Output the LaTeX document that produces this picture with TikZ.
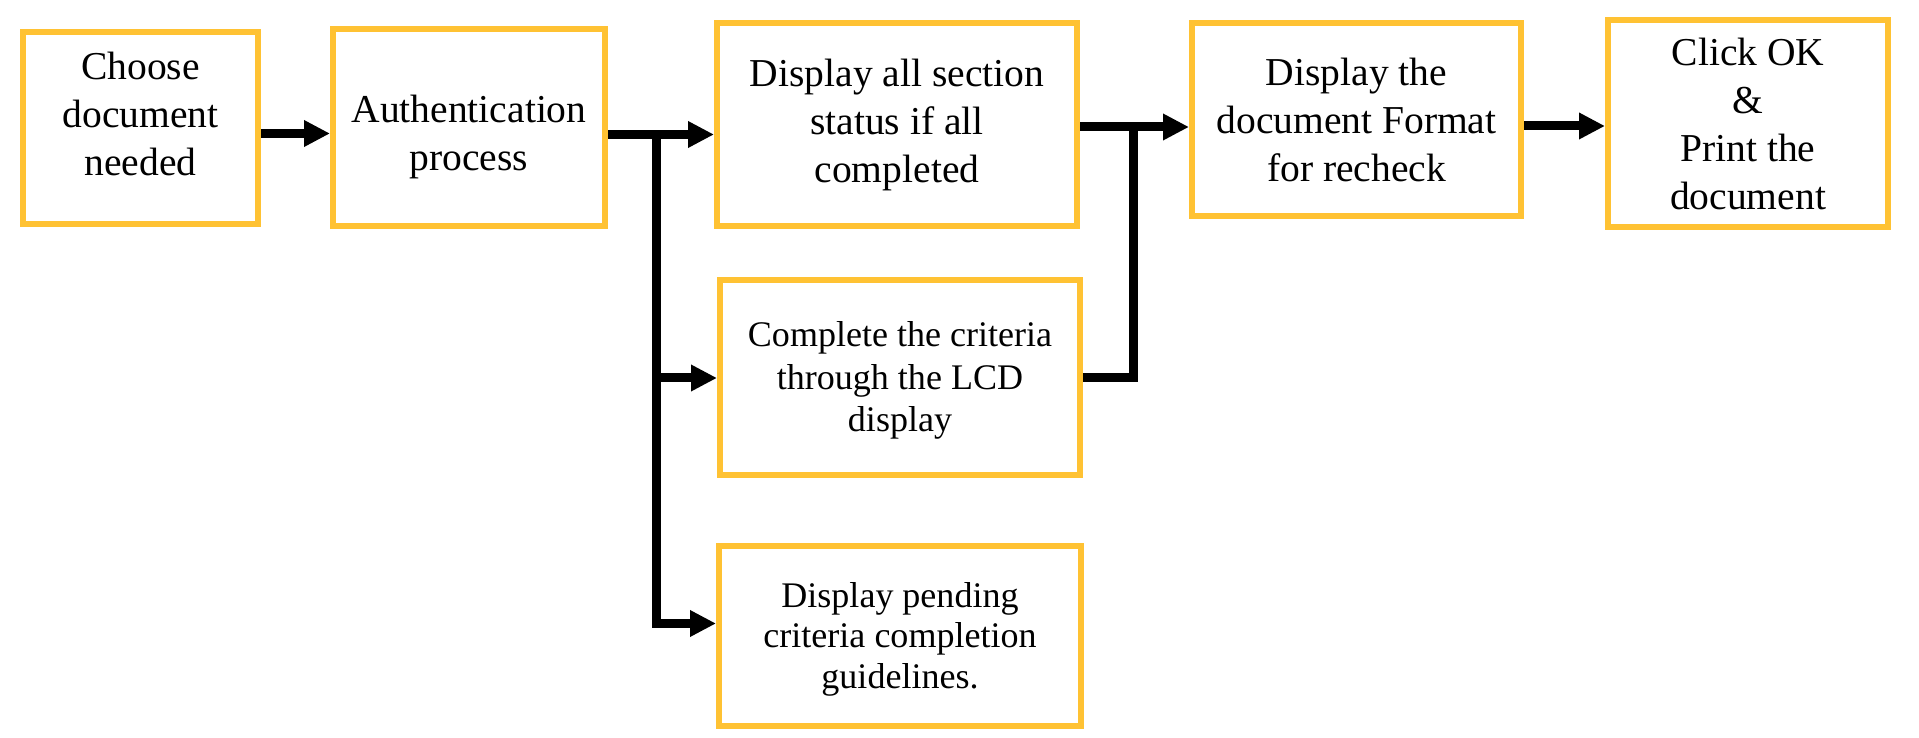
\documentclass[tikz,border=0pt]{standalone}
\usepackage{fontspec}
\setmainfont{Liberation Serif}
\usepackage{xcolor}
\usetikzlibrary{positioning, arrows.meta, calc}
\definecolor{boxgold}{RGB}{255,194,51}
% text block moved up/down inside its box, box size kept
\newcommand{\liftlines}[2]{\raisebox{#1}[\height][\depth]{\begin{tabular}{@{}c@{}}#2\end{tabular}}}
\tikzset{
    task/.style={rectangle, draw=boxgold, line width=0.12cm, fill=white, align=center, inner sep=0pt, font=\fontsize{22.5pt}{27.3pt}\selectfont},
    subtask/.style={task, font=\fontsize{20.5pt}{24.3pt}\selectfont}
}

\begin{document}
\begin{tikzpicture}[
        % Styles
        line/.style   ={-{Triangle[length=0.52cm, width=0.5cm]}, line width=0.18cm},
        connect/.style={line width=0.18cm}
    ]
    \useasboundingbox (0,0) rectangle (38.38,-14.76);

    % --- MAIN ROW ---

    % Choose document
    \node[task, minimum width=4.7cm, minimum height=3.84cm] (Choose) at (2.81,-2.56) {\liftlines{0.21cm}{Choose\\document\\needed}};

    % Authentication
    \node[task, minimum width=5.44cm, minimum height=3.94cm, right=1.38cm of Choose] (Auth) {\liftlines{-0.17cm}{Authentication\\process}};
    \draw[line] ([yshift=-0.11cm]Choose.east) -- ([yshift=-0.11cm]Choose.east -| Auth.west);

    % Section status
    \node[task, minimum width=7.2cm, minimum height=4.06cm, right=2.12cm of Auth, yshift=0.06cm] (Disp) {Display all section\\status if all\\completed};

    % Document format
    \node[task, minimum width=6.58cm, minimum height=3.86cm, right=2.18cm of Disp, yshift=0.1cm] (Fmt) {Display the\\document Format\\for recheck};

    % Print
    \node[task, minimum width=5.6cm, minimum height=4.14cm, right=1.62cm of Fmt, yshift=-0.08cm] (Ok) {Click OK\\\&\\Print the\\document};

    % --- BRANCHES (below) ---

    % Criteria via LCD
    \node[subtask, minimum width=7.2cm, minimum height=3.9cm, below=0.96cm of Disp, xshift=0.06cm] (Crit) {\liftlines{-0.05cm}{Complete the criteria\\through the LCD\\display}};

    % Pending guidelines
    \node[subtask, font=\fontsize{20.5pt}{23.1pt}\selectfont, minimum width=7.24cm, minimum height=3.58cm, below=1.3cm of Crit] (Pend) {\liftlines{-0.07cm}{Display pending\\criteria completion\\guidelines.}};

    % Split after authentication
    \draw[line] ([yshift=-0.13cm]Auth.east) -- ([yshift=-0.13cm]Auth.east -| Disp.west);
    \coordinate (SplitA) at ([xshift=0.96cm, yshift=-0.13cm]Auth.east);
    \draw[line] (SplitA) |- (Crit.west);
    \draw[line] (SplitA) |- ([yshift=0.25cm]Pend.west);

    % Join into document format
    \draw[line] ([yshift=-0.04cm]Disp.east) -- ([yshift=-0.04cm]Disp.east -| Fmt.west);
    \coordinate (JoinB) at ([xshift=1.06cm, yshift=-0.04cm]Disp.east);
    \draw[connect] (Crit.east) -| (JoinB);

    \draw[line] ([yshift=-0.12cm]Fmt.east) -- ([yshift=-0.12cm]Fmt.east -| Ok.west);

\end{tikzpicture}
\end{document}
